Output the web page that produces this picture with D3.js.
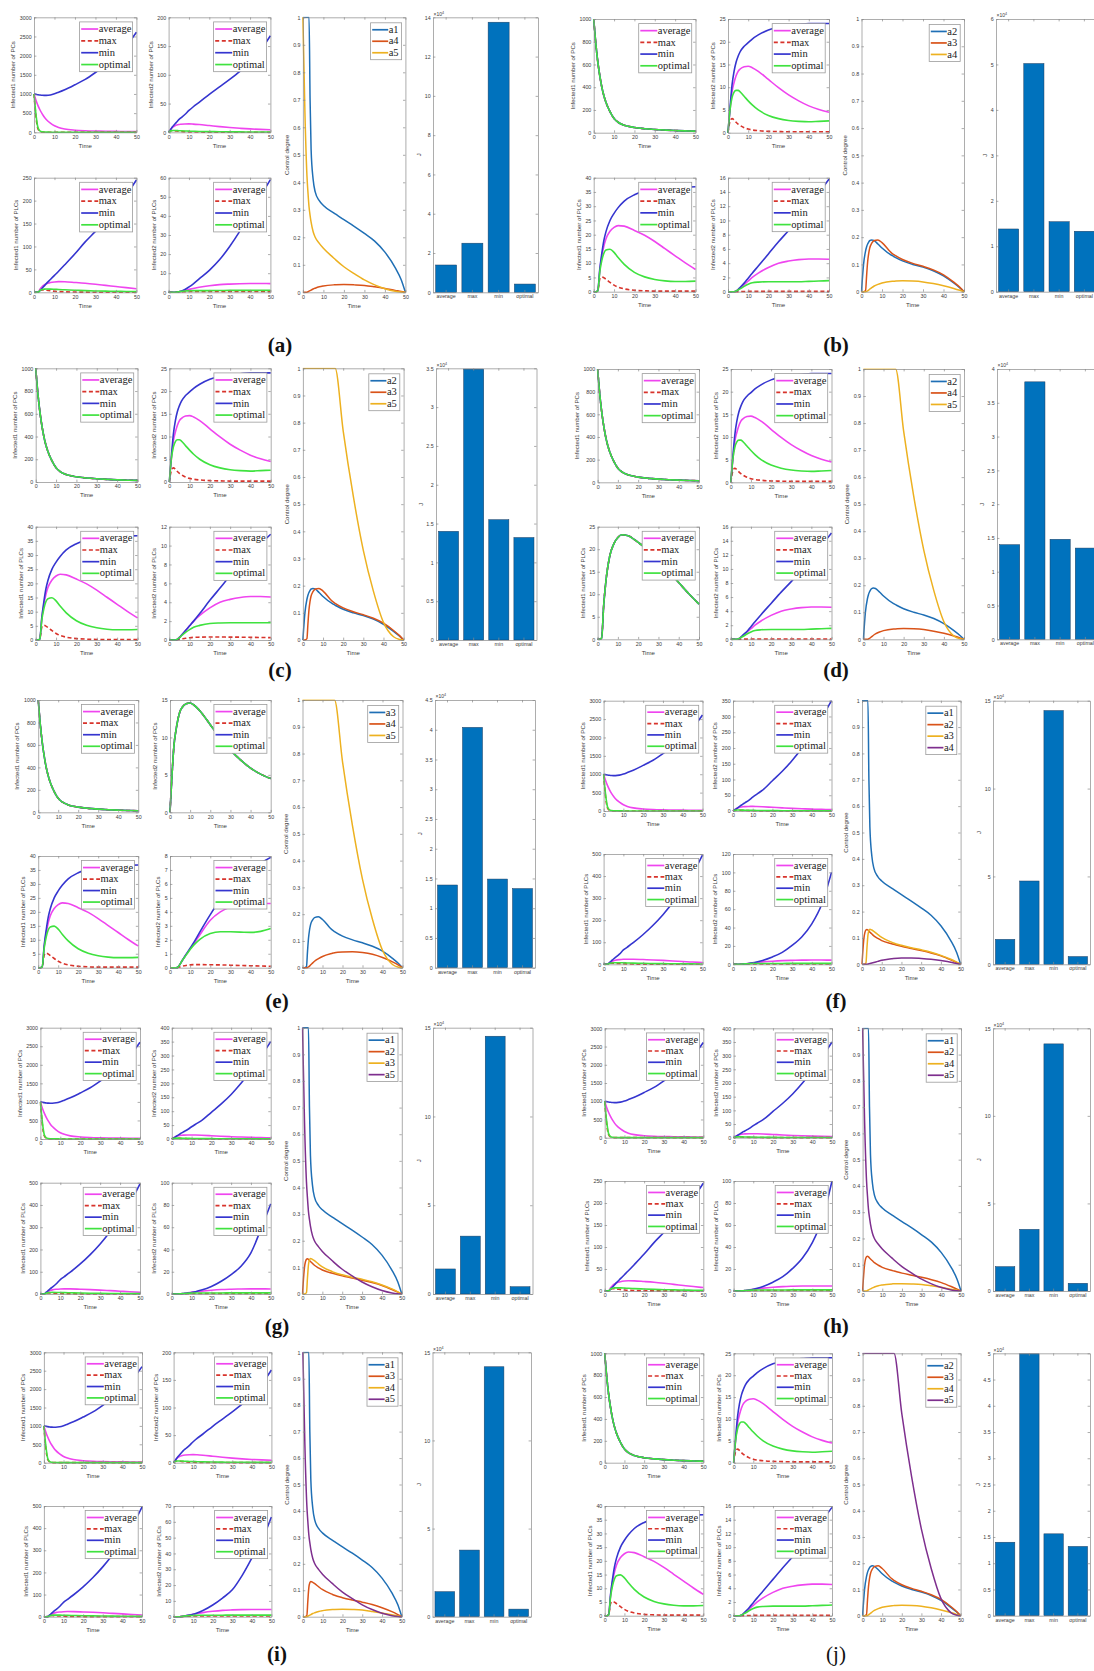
<!DOCTYPE html>
<html>
<head>
<meta charset="utf-8">
<script src="https://cdn.jsdelivr.net/npm/d3@7"></script>
<style>
  html, body { margin: 0; padding: 0; background: #fff; }
  svg { display: block; }
</style>
</head>
<body>
<script>
// ---------------------------------------------------------------
// Time grids (days) for the state trajectories and the controls
// ---------------------------------------------------------------
const T  = [0,1,2,3,4,5,6,8,10,12,15,20,25,30,35,40,45,50];
const TC = [0,1,2,2.5,3,3.5,4,5,6,8,10,15,16,20,25,30,35,40,45,48,50];

// Infected1 number of PCs
const pc1Shared = [1000,790,625,500,400,325,268,185,125,92,66,46,35,28,23,19,16,14];
const pc1AvgA   = [1000,830,690,575,480,400,335,240,170,125,85,55,40,32,27,23,20,18];
const pc1MaxA   = [1000,380,80,18,6,3,2,1,1,1,1,1,1,1,1,1,1,1];
const pc1MinA   = [1000,990,980,972,966,963,963,975,1005,1045,1110,1240,1380,1560,1760,1990,2250,2610];
const pc1OptA   = [1000,450,110,30,12,6,4,3,2,2,2,2,2,2,2,2,2,2];

// Infected2 number of PCs
const pc2Avg  = [0,5,9,11,12.5,13.5,14,14.5,14.6,14.3,13.5,11.7,9.9,8.3,7,5.9,5.1,4.5];
const pc2MaxB = [0,2.5,3.1,2.8,2.3,1.9,1.6,1.1,0.8,0.6,0.45,0.3,0.25,0.2,0.2,0.2,0.2,0.2];
const pc2MinA = [0,5,10,14,18,22,25,31,38,44,52,66,79,92,106,122,142,168];
const pc2MinB = [0,5.5,10.5,13.5,15.5,16.8,17.8,19,19.8,20.6,21.5,22.6,23.2,23.6,23.8,24,24,24];
const pc2MinF = [0,4,8.5,13,17.5,22,26,34,44,53,66,96,126,160,200,245,295,350];
const pc2OptA = [0,2.5,3,3.2,3,2.8,2.6,2.3,2,1.8,1.5,1.2,1,0.8,0.7,0.6,0.5,0.5];
const pc2OptB = [0,5,7.7,8.9,9.3,9.3,9,8,7,6.1,5,3.8,3.1,2.7,2.5,2.4,2.5,2.6];

// Infected1 number of PLCs
const pl1Avg  = [0,0,0.3,7.5,12.5,16,18.5,21.2,22.6,23.2,23,21.5,19.8,17.6,15.1,12.6,10.1,7.8];
const pl1MaxB = [0,0,0.3,4.5,5.2,4.9,4.4,3.3,2.3,1.6,1,0.5,0.3,0.2,0.2,0.2,0.2,0.2];
const pl1MinA = [0,0,0.3,4,9,14,19,28,37,46,60,84,110,133,157,183,212,245];
const pl1MinB = [0,0,0.3,8,13.5,18,21,25,27.5,29.5,31.8,34,35.3,36,36.4,36.6,36.7,36.8];
const pl1MinF = [0,0,0.3,8,16,24,31,46,65,78,98,135,177,225,280,340,410,495];
const pl1OptA = [0,0,0.3,4.5,6.2,7,7.1,7,6.6,6.1,5.5,4.5,3.6,3,2.5,2.1,1.8,1.5];
const pl1OptB = [0,0,0.3,7,11,13.5,14.6,14.9,13.8,12,9.6,6.8,5.2,4.3,3.8,3.6,3.6,3.7];

// Infected2 number of PLCs
const pl2Avg  = [0,0,0,0,0.1,0.3,0.5,1,1.5,2,2.6,3.4,4,4.3,4.5,4.6,4.6,4.55];
const pl2MaxA = [0,0,0,0,0.05,0.1,0.2,0.3,0.4,0.45,0.5,0.5,0.5,0.5,0.5,0.5,0.5,0.5];
const pl2MaxB = [0,0,0,0,0,0.01,0.02,0.03,0.04,0.05,0.05,0.05,0.05,0.05,0.05,0.05,0.05,0.05];
const pl2MaxC = [0,0,0,0,0.02,0.06,0.1,0.18,0.24,0.28,0.3,0.32,0.32,0.3,0.3,0.28,0.27,0.25];
const pl2MinA = [0,0,0,0,0.1,0.3,0.6,1.5,2.8,4.3,7,11.5,17,24,32,41,50,59];
const pl2MinB = [0,0,0,0,0.05,0.3,0.6,1.2,1.9,2.6,3.6,5.3,7,8.6,10.3,12.1,13.9,15.8];
const pl2MinC = [0,0,0,0,0.05,0.25,0.5,1,1.5,2,2.8,4.2,5.5,6.8,8,9.2,10.2,11.2];
const pl2MinD = [0,0,0,0,0.05,0.3,0.6,1.1,1.8,2.5,3.5,5.1,6.7,8.2,9.8,11.5,13.3,15.1];
const pl2MinF = [0,0,0,0,0.1,0.2,0.4,0.9,1.6,2.5,4.2,8,13,20.5,30,44,65,100];
const pl2MinG = [0,0,0,0,0.1,0.2,0.4,0.8,1.4,2.1,3.5,6.8,11.5,17.5,25,37,58,81];
const pl2MinI = [0,0,0,0,0.1,0.25,0.5,1,1.6,2.4,3.9,7.4,11.8,17,26,37,48,63];
const pl2OptA = [0,0,0,0,0.1,0.3,0.5,0.7,0.8,0.9,0.9,0.9,0.95,1,1,1,1,1];
const pl2OptB = [0,0,0,0,0.1,0.25,0.4,0.75,1.05,1.25,1.35,1.4,1.4,1.4,1.4,1.45,1.5,1.55];
const pl2OptC = [0,0,0,0,0.1,0.25,0.45,0.8,1.1,1.35,1.55,1.75,1.8,1.82,1.82,1.82,1.82,1.82];
const pl2MinE = [0,0,0,0,0.05,0.25,0.5,0.95,1.4,1.85,2.6,3.8,4.9,5.8,6.5,7.1,7.5,7.9];
const pl2AvgE = [0,0,0,0,0.05,0.25,0.5,0.95,1.35,1.75,2.4,3.4,4,4.35,4.5,4.6,4.6,4.6];
const pl2OptE = [0,0,0,0,0.05,0.25,0.5,0.9,1.3,1.65,2.05,2.45,2.58,2.57,2.55,2.53,2.6,2.8];
const pl2MaxE = [0,0,0,0,0.02,0.06,0.1,0.16,0.2,0.22,0.22,0.21,0.2,0.18,0.16,0.14,0.12,0.1];

// Control degree trajectories (on TC)
const ctlA1 = [1,1,1,1,1,0.7,0.52,0.41,0.365,0.333,0.316,0.289,0.284,0.264,0.24,0.214,0.186,0.146,0.09,0.045,0];
const ctlA5 = [1,0.65,0.42,0.36,0.31,0.28,0.255,0.22,0.2,0.178,0.16,0.125,0.118,0.093,0.068,0.045,0.027,0.013,0.004,0.001,0];
const ctlA4 = [0,0,0,0.002,0.004,0.006,0.008,0.012,0.015,0.02,0.023,0.027,0.0275,0.028,0.027,0.025,0.02,0.014,0.007,0.003,0];
const ctlF2 = [0,0.1,0.13,0.132,0.13,0.126,0.122,0.115,0.108,0.098,0.09,0.078,0.076,0.068,0.06,0.052,0.043,0.032,0.017,0.007,0];
const ctlF3 = [0,0,0.005,0.06,0.11,0.128,0.133,0.13,0.125,0.113,0.102,0.084,0.081,0.072,0.063,0.055,0.046,0.034,0.019,0.008,0];
const ctlF4 = [0,0,0,0,0.001,0.002,0.003,0.005,0.007,0.011,0.015,0.021,0.022,0.024,0.024,0.022,0.019,0.014,0.008,0.003,0];
const ctlB2 = [0,0.1,0.15,0.165,0.175,0.182,0.187,0.19,0.188,0.175,0.16,0.132,0.128,0.113,0.1,0.09,0.077,0.058,0.032,0.014,0];
const ctlB3 = [0,0,0.005,0.06,0.11,0.14,0.16,0.178,0.187,0.19,0.18,0.14,0.135,0.118,0.104,0.093,0.08,0.062,0.035,0.016,0];
const ctlB4 = [0,0,0,0.001,0.003,0.006,0.009,0.015,0.02,0.027,0.032,0.038,0.0385,0.04,0.039,0.036,0.03,0.022,0.012,0.005,0];
const ctlE4 = [0,0,0,0.001,0.003,0.006,0.01,0.017,0.024,0.034,0.042,0.054,0.056,0.059,0.06,0.057,0.05,0.038,0.022,0.01,0];
const ctlC5 = [1,1,1,1,1,1,1,1,1,1,1,1,1,0.77,0.53,0.33,0.18,0.065,0.012,0.002,0];

// Objective J (x10^4) per strategy
const barCats = ['average','max','min','optimal'];
const jA = [1.39, 2.5, 13.75, 0.42];
const jB = [1.38, 5.02, 1.54, 1.33];
const jC = [1.40, 3.49, 1.55, 1.32];
const jD = [1.40, 3.81, 1.48, 1.35];
const jE = [1.39, 4.04, 1.49, 1.33];
const jF = [1.42, 4.74, 14.44, 0.44];
const jG = [1.41, 3.26, 14.52, 0.41];
const jH = [1.39, 3.52, 14.11, 0.44];
const jI = [1.42, 3.78, 14.18, 0.43];
const jJ = [1.40, 4.99, 1.56, 1.32];

// Axis limits and tick steps, one entry per scenario (a)..(j)
const limPC1  = [3000,1000,1000,1000,1000,3000,3000,3000,3000,1000];
const stepPC1 = [500,200,200,200,200,500,500,500,500,200];
const limPC2  = [200,25,25,25,15,350,400,400,200,25];
const stepPC2 = [50,5,5,5,5,50,50,50,50,5];
const limPL1  = [250,40,40,25,40,500,500,250,500,40];
const stepPL1 = [50,5,5,5,5,100,100,50,100,5];
const limPL2  = [60,16,12,16,8,120,100,100,70,16];
const stepPL2 = [10,2,2,2,1,20,20,20,10,2];
const limJ    = [14,6,3.5,4,4.5,15,15,15,15,5];
const stepJ   = [2,1,0.5,0.5,0.5,5,5,5,5,0.5];
const panelTags = ['(a)','(b)','(c)','(d)','(e)','(f)','(g)','(h)','(i)','(j)'];
const ctlNames = [['a1','a4','a5'],['a2','a3','a4'],['a2','a3','a5'],['a2','a4','a5'],['a3','a4','a5'],
                  ['a1','a2','a3','a4'],['a1','a2','a3','a5'],['a1','a2','a4','a5'],['a1','a3','a4','a5'],['a2','a3','a4','a5']];

// Series tables (order: average, max, min, optimal) built from the arrays above
const P1S = [pc1Shared,pc1Shared,pc1Shared,pc1Shared];
const P1A = [pc1AvgA,pc1MaxA,pc1MinA,pc1OptA];
const setsPC1 = [P1A,P1S,P1S,P1S,P1S,P1A,P1A,P1A,P1A,P1S];
const P2B = [pc2Avg,pc2MaxB,pc2MinB,pc2OptB];
const setsPC2 = [[pc2Avg,pc2MaxB,pc2MinA,pc2OptA],P2B,P2B,P2B,[pc2Avg,pc2Avg,pc2Avg,pc2Avg],
                 [pc2Avg,pc2MaxB,pc2MinF,pc2OptA],[pc2Avg,pc2MaxB,pc2MinF,pc2OptA],[pc2Avg,pc2MaxB,pc2MinF,pc2OptA],
                 [pc2Avg,pc2MaxB,pc2MinA,pc2OptA],P2B];
const L1B = [pl1Avg,pl1MaxB,pl1MinB,pl1OptB];
const setsPL1 = [[pl1Avg,pl1MaxB,pl1MinA,pl1OptA],L1B,L1B,[pl1Avg,pl1Avg,pl1Avg,pl1Avg],L1B,
                 [pl1Avg,pl1MaxB,pl1MinF,pl1OptA],[pl1Avg,pl1MaxB,pl1MinF,pl1OptA],[pl1Avg,pl1MaxB,pl1MinA,pl1OptA],
                 [pl1Avg,pl1MaxB,pl1MinF,pl1OptA],L1B];
const setsPL2 = [[pl2Avg,pl2MaxA,pl2MinA,pl2OptA],[pl2Avg,pl2MaxB,pl2MinB,pl2OptB],[pl2Avg,pl2MaxC,pl2MinC,pl2OptC],
                 [pl2Avg,pl2MaxB,pl2MinD,pl2OptB],[pl2AvgE,pl2MaxE,pl2MinE,pl2OptE],[pl2Avg,pl2MaxA,pl2MinF,pl2OptA],
                 [pl2Avg,pl2MaxA,pl2MinG,pl2OptA],[pl2Avg,pl2MaxA,pl2MinF,pl2OptA],[pl2Avg,pl2MaxA,pl2MinI,pl2OptA],
                 [pl2Avg,pl2MaxB,pl2MinB,pl2OptB]];
const ctlSets = [[ctlA1,ctlA4,ctlA5],[ctlB2,ctlB3,ctlB4],[ctlB2,ctlB3,ctlC5],[ctlB2,ctlB4,ctlC5],[ctlB3,ctlE4,ctlC5],
                 [ctlA1,ctlF2,ctlF3,ctlF4],[ctlA1,ctlF2,ctlF3,ctlA5],[ctlA1,ctlF2,ctlA4,ctlA5],[ctlA1,ctlF3,ctlA4,ctlA5],
                 [ctlB2,ctlB3,ctlB4,ctlC5]];
const jSets = [jA,jB,jC,jD,jE,jF,jG,jH,jI,jJ];

// ---------------------------------------------------------------
// Page geometry of each scenario block
// ---------------------------------------------------------------
const layout = [
  {tl:[34,136.4],    tr:[168.6,270.4], ctl:[302.9,405.4], bar:[433,538],    top:[17.3,132.3],    bot:[177.7,292.3],  lab:[280,352],  bold:true},
  {tl:[593.7,695.5], tr:[728,829],     ctl:[861.5,964],   bar:[996,1097],   top:[19,132.7],      bot:[177.7,291.7],  lab:[836,352],  bold:true},
  {tl:[35.7,137.5],  tr:[169.3,270.7], ctl:[302.9,403.6], bar:[436,536.5],  top:[368.3,482],     bot:[526.7,640],    lab:[280,677],  bold:true},
  {tl:[597.6,699],   tr:[730.8,831.5], ctl:[863.4,964],   bar:[997,1098],   top:[369,482.3],     bot:[526.7,639.3],  lab:[836,677],  bold:true},
  {tl:[38.2,138.2],  tr:[170,270.7],   ctl:[302.5,402.5], bar:[435,535],    top:[700,812.3],     bot:[856,967.7],    lab:[277,1008], bold:true},
  {tl:[603.6,702.5], tr:[733,831.5],   ctl:[862,960.6],   bar:[993,1090],   top:[700.7,811],     bot:[854,964.3],    lab:[836,1008], bold:true},
  {tl:[40.4,140],    tr:[171.8,270.7], ctl:[302.5,401.8], bar:[433,532.5],  top:[1027.7,1139],   bot:[1182.7,1294],  lab:[277,1333], bold:true},
  {tl:[604.7,703.3], tr:[733.6,832],   ctl:[862.6,961],   bar:[993,1090],   top:[1028.3,1137.7], bot:[1181,1291],    lab:[836,1333], bold:true},
  {tl:[43.9,142],    tr:[173.6,271.4], ctl:[302.9,401.8], bar:[432.5,531],  top:[1352.3,1462.7], bot:[1506,1616.7],  lab:[277,1661], bold:true},
  {tl:[604.7,703.3], tr:[733.6,832],   ctl:[862.6,960.6], bar:[993,1090],   top:[1353.3,1462.7], bot:[1506,1615.7],  lab:[836,1661], bold:false}
];

// ---------------------------------------------------------------
// Styles
// ---------------------------------------------------------------
const SANS  = '"Liberation Sans", Arial, Helvetica, sans-serif';
const SERIF = '"Liberation Serif", "Times New Roman", serif';
const AXIS_COLOR = '#8a8a8a';
const TEXT_COLOR = '#3a3a3a';
const TICK_FS = 5.3, LABEL_FS = 6.1, LEGEND_FS = 10.5;
const seriesStyle = [
  {name:'average', color:'#ef45ef'},
  {name:'max',     color:'#d8332b', dash:'4,2.6'},
  {name:'min',     color:'#3535cf'},
  {name:'optimal', color:'#3fe23f'}
];
const ctlColors = ['#1f6fb5', '#d95319', '#edb120', '#7e2f8e'];
const BAR_FILL = '#0072bd';

const svg = d3.select('body').append('svg').attr('width', 1094).attr('height', 1671);
let uid = 0;

function tickValues(max, step) {
  const n = Math.round(max / step);
  return d3.range(n + 1).map(i => +(i * step).toFixed(6));
}
function textWidth(s, fs) {
  let w = 0;
  for (const c of s) w += (c === '.' ? 0.278 : 0.556);
  return w * fs;
}
const fmt = d3.format('~g');

function styleAxis(sel, showText) {
  sel.attr('font-family', SANS).attr('font-size', TICK_FS);
  sel.selectAll('path.domain, .tick line').attr('stroke', AXIS_COLOR).attr('stroke-width', 0.7);
  sel.selectAll('.tick text').attr('fill', TEXT_COLOR);
  if (!showText) sel.selectAll('.tick text').remove();
}

// Box with inward ticks on all four sides
function boxAxes(g, xAxisBottom, xAxisTop, ys, yt, x0, x1, y0, y1) {
  const b = g.append('g').attr('transform', `translate(0,${y1})`).call(xAxisBottom);
  styleAxis(b, true);
  const t = g.append('g').attr('transform', `translate(0,${y0})`).call(xAxisTop);
  styleAxis(t, false);
  const l = g.append('g').attr('transform', `translate(${x0},0)`)
    .call(d3.axisLeft(ys).tickValues(yt).tickSize(-2.4).tickSizeOuter(0).tickPadding(2.4).tickFormat(fmt));
  styleAxis(l, true);
  const r = g.append('g').attr('transform', `translate(${x1},0)`)
    .call(d3.axisRight(ys).tickValues(yt).tickSize(-2.4).tickSizeOuter(0).tickFormat(''));
  styleAxis(r, false);
}

function yLabel(g, text, x0, y0, y1, yt) {
  const w = d3.max(yt, v => textWidth(fmt(v), TICK_FS));
  const x = x0 - 2.4 - w - 4.6;
  g.append('text')
    .attr('transform', `translate(${x},${(y0 + y1) / 2}) rotate(-90)`)
    .attr('text-anchor', 'middle')
    .attr('font-family', SANS).attr('font-size', LABEL_FS).attr('fill', TEXT_COLOR)
    .text(text);
}
function xLabel(g, text, x0, x1, y1) {
  g.append('text')
    .attr('x', (x0 + x1) / 2).attr('y', y1 + 15.4)
    .attr('text-anchor', 'middle')
    .attr('font-family', SANS).attr('font-size', LABEL_FS).attr('fill', TEXT_COLOR)
    .text(text);
}

function legend(g, xRight, yTop, items, rowH, lineLen, boxW) {
  const h = items.length * rowH + 2.4;
  const lx = xRight - boxW;
  const lg = g.append('g');
  lg.append('rect').attr('x', lx).attr('y', yTop).attr('width', boxW).attr('height', h)
    .attr('fill', '#fff').attr('stroke', '#9c9c9c').attr('stroke-width', 0.8);
  items.forEach((it, i) => {
    const cy = yTop + 1.2 + rowH * (i + 0.5);
    lg.append('line').attr('x1', lx + 1.6).attr('x2', lx + 1.6 + lineLen).attr('y1', cy).attr('y2', cy)
      .attr('stroke', it.color).attr('stroke-width', 1.7).attr('stroke-dasharray', it.dash || null);
    lg.append('text').attr('x', lx + 2.1 + lineLen).attr('y', cy).attr('dy', '0.3em')
      .attr('font-family', SERIF).attr('font-size', LEGEND_FS).attr('fill', '#222')
      .text(it.name);
  });
}

function clipRect(g, x0, x1, y0, y1) {
  const id = 'clip' + (uid++);
  g.append('clipPath').attr('id', id).append('rect')
    .attr('x', x0 - 1).attr('y', y0 - 0.6).attr('width', x1 - x0 + 2).attr('height', y1 - y0 + 1.8);
  return `url(#${id})`;
}

function linePlot(g, xr, yr, ymax, step, ylab, sets) {
  const [x0, x1] = xr, [y0, y1] = yr;
  const xs = d3.scaleLinear([0, 50], [x0, x1]);
  const ys = d3.scaleLinear([0, ymax], [y1, y0]);
  const line = d3.line().x((d, i) => xs(T[i])).y(d => ys(d)).curve(d3.curveMonotoneX);
  const lg = g.append('g').attr('clip-path', clipRect(g, x0, x1, y0, y1));
  sets.forEach((vals, k) => {
    const st = seriesStyle[k];
    lg.append('path').attr('d', line(vals)).attr('fill', 'none')
      .attr('stroke', st.color).attr('stroke-width', 1.6)
      .attr('stroke-dasharray', st.dash || null);
  });
  const xt = [0, 10, 20, 30, 40, 50];
  const yt = tickValues(ymax, step);
  boxAxes(g,
    d3.axisBottom(xs).tickValues(xt).tickSize(-2.4).tickSizeOuter(0).tickPadding(2.6).tickFormat(fmt),
    d3.axisTop(xs).tickValues(xt).tickSize(-2.4).tickSizeOuter(0).tickFormat(''),
    ys, yt, x0, x1, y0, y1);
  xLabel(g, 'Time', x0, x1, y1);
  yLabel(g, ylab, x0, y0, y1, yt);
  legend(g, x1 - 3.8, y0 + 4.6, seriesStyle, (y1 - y0) * 0.103, 17, 53);
}

function controlPlot(g, xr, yr, sets, names) {
  const [x0, x1] = xr, [y0, y1] = yr;
  const xs = d3.scaleLinear([0, 50], [x0, x1]);
  const ys = d3.scaleLinear([0, 1], [y1, y0]);
  const line = d3.line().x((d, i) => xs(TC[i])).y(d => ys(d)).curve(d3.curveMonotoneX);
  const lg = g.append('g').attr('clip-path', clipRect(g, x0, x1, y0, y1));
  sets.forEach((vals, k) => {
    lg.append('path').attr('d', line(vals)).attr('fill', 'none')
      .attr('stroke', ctlColors[k]).attr('stroke-width', 1.5);
  });
  const xt = [0, 10, 20, 30, 40, 50];
  const yt = tickValues(1, 0.1);
  boxAxes(g,
    d3.axisBottom(xs).tickValues(xt).tickSize(-2.4).tickSizeOuter(0).tickPadding(2.6).tickFormat(fmt),
    d3.axisTop(xs).tickValues(xt).tickSize(-2.4).tickSizeOuter(0).tickFormat(''),
    ys, yt, x0, x1, y0, y1);
  xLabel(g, 'Time', x0, x1, y1);
  yLabel(g, 'Control degree', x0, y0, y1, yt);
  legend(g, x1 - 3.8, y0 + 5.5, names.map((n, k) => ({name: n, color: ctlColors[k]})), 11.5, 16, 31);
}

function barChart(g, xr, yr, vals, ymax, step) {
  const [x0, x1] = xr, [y0, y1] = yr;
  const xs = d3.scaleBand().domain(barCats).range([x0, x1]).paddingInner(0.2).paddingOuter(0.1);
  const ys = d3.scaleLinear([0, ymax], [y1, y0]);
  g.append('g').selectAll('rect').data(vals).join('rect')
    .attr('x', (d, i) => xs(barCats[i]))
    .attr('y', d => ys(d))
    .attr('width', xs.bandwidth())
    .attr('height', d => ys(0) - ys(d))
    .attr('fill', BAR_FILL).attr('stroke', '#1c3d60').attr('stroke-width', 0.5);
  const yt = tickValues(ymax, step);
  boxAxes(g,
    d3.axisBottom(xs).tickSize(-2.4).tickSizeOuter(0).tickPadding(2.2),
    d3.axisTop(xs).tickSize(-2.4).tickSizeOuter(0).tickFormat(''),
    ys, yt, x0, x1, y0, y1);
  // exponent marker above the value axis
  const ex = g.append('text').attr('x', x0 + 0.5).attr('y', y0 - 1.6)
    .attr('font-family', SANS).attr('font-size', 5).attr('fill', TEXT_COLOR);
  ex.append('tspan').text('\u00d710');
  ex.append('tspan').attr('font-size', 3.6).attr('dy', -2).text('4');
  const w = d3.max(yt, v => textWidth(fmt(v), TICK_FS));
  g.append('text')
    .attr('transform', `translate(${x0 - 2.4 - w - 3.6},${(y0 + y1) / 2}) rotate(-90)`)
    .attr('text-anchor', 'middle')
    .attr('font-family', SANS).attr('font-size', LABEL_FS).attr('fill', TEXT_COLOR)
    .text('J');
}

// ---------------------------------------------------------------
// Draw the ten scenario blocks
// ---------------------------------------------------------------
layout.forEach((L, p) => {
  const g = svg.append('g');
  linePlot(g, L.tl, L.top, limPC1[p], stepPC1[p], 'Infected1 number of PCs',  setsPC1[p]);
  linePlot(g, L.tr, L.top, limPC2[p], stepPC2[p], 'Infected2 number of PCs',  setsPC2[p]);
  linePlot(g, L.tl, L.bot, limPL1[p], stepPL1[p], 'Infected1 number of PLCs', setsPL1[p]);
  linePlot(g, L.tr, L.bot, limPL2[p], stepPL2[p], 'Infected2 number of PLCs', setsPL2[p]);
  controlPlot(g, L.ctl, [L.top[0], L.bot[1]], ctlSets[p], ctlNames[p]);
  barChart(g, L.bar, [L.top[0], L.bot[1]], jSets[p], limJ[p], stepJ[p]);
  g.append('text')
    .attr('x', L.lab[0]).attr('y', L.lab[1])
    .attr('text-anchor', 'middle')
    .attr('font-family', SERIF).attr('font-size', 21)
    .attr('font-weight', L.bold ? 'bold' : 'normal')
    .attr('fill', '#111')
    .text(panelTags[p]);
});
</script>
</body>
</html>
